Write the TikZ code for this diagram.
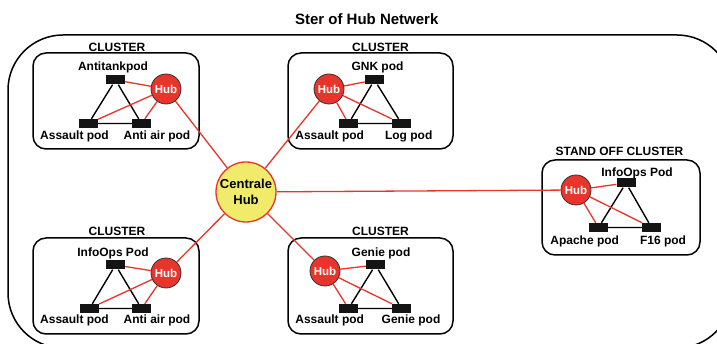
\documentclass[tikz,border=0pt]{standalone}
\usepackage{fontspec}
\setmainfont{Liberation Sans}
\definecolor{hubred}{HTML}{E8352B}
\definecolor{hubyellow}{HTML}{F1EB6C}

\begin{document}
\begin{tikzpicture}[x=1pt, y=-1pt,
    hub/.style={draw=black!80, circle, fill=hubred, minimum size=30, inner sep=0, line width=0.8, text=white, font=\fontsize{11.5}{12}\selectfont\bfseries},
    centrehub/.style={draw=hubred, circle, fill=hubyellow, minimum size=60, inner sep=0, line width=1.3, align=center, font=\fontsize{13}{15.5}\selectfont\bfseries},
    pod/.style={rectangle, fill=black!92, minimum width=19, minimum height=9, inner sep=0},
    lbl/.style={anchor=base, inner sep=0, font=\fontsize{12}{12}\selectfont\bfseries},
    clusterbox/.style={draw, rectangle, rounded corners=13, line width=1.5, minimum height=96},
    redlink/.style={draw=hubred, line width=1.3},
    podlink/.style={draw=black, line width=1.4}]

    \useasboundingbox (0,0) rectangle (717,344);
    \clip (0,0) rectangle (717,344);

    % outer frame, runs past the right and bottom edge
    \draw[line width=1.5, rounded corners=55] (8,35) rectangle (732,348);
    \node (title) [lbl, font=\fontsize{15}{15}\selectfont\bfseries] at (366.7,24.3) {Ster of Hub Netwerk};

    % cluster boxes
    \node (box_antitank) [clusterbox, minimum width=166] at (116,101) {};
    \node (box_gnk) [clusterbox, minimum width=165] at (370.5,101) {};
    \node (box_standoff) [clusterbox, minimum width=158, minimum height=95] at (621,207.5) {};
    \node (box_infoops) [clusterbox, minimum width=166] at (116,286) {};
    \node (box_genie) [clusterbox, minimum width=165] at (370.5,286) {};

    \node (title_antitank) [lbl] at (117,51.5) {CLUSTER};
    \node (title_gnk) [lbl] at (380.5,51.5) {CLUSTER};
    \node (title_standoff) [lbl] at (619.5,155.3) {STAND OFF CLUSTER};
    \node (title_infoops) [lbl] at (117,235.7) {CLUSTER};
    \node (title_genie) [lbl] at (380.5,235.7) {CLUSTER};

    % centrale hub
    \node (centrale) [centrehub] at (246,192) {Centrale\\Hub};

    % antitank cluster
    \node (hub_antitank) [hub] at (166,89) {Hub};
    \node (pod_antitank_top) [pod] at (115.5,80) {};
    \node (pod_antitank_left) [pod] at (88.5,123.5) {};
    \node (pod_antitank_right) [pod] at (141.5,123.5) {};
    \node (lbl_antitank_top) [lbl] at (113,71) {Antitankpod};
    \node (lbl_antitank_left) [lbl] at (74.5,139.5) {Assault pod};
    \node (lbl_antitank_right) [lbl] at (157,139.5) {Anti air pod};

    % gnk cluster
    \node (hub_gnk) [hub] at (329,89) {Hub};
    \node (pod_gnk_top) [pod] at (374.5,80) {};
    \node (pod_gnk_left) [pod] at (348.5,123.5) {};
    \node (pod_gnk_right) [pod] at (401.5,123.5) {};
    \node (lbl_gnk_top) [lbl] at (377.5,71) {GNK pod};
    \node (lbl_gnk_left) [lbl] at (329.7,139.5) {Assault pod};
    \node (lbl_gnk_right) [lbl] at (408.7,139.5) {Log pod};

    % stand off cluster
    \node (hub_standoff) [hub] at (576,190) {Hub};
    \node (pod_standoff_top) [pod] at (626,183) {};
    \node (pod_standoff_left) [pod] at (598.5,227.5) {};
    \node (pod_standoff_right) [pod] at (651.5,227.5) {};
    \node (lbl_standoff_top) [lbl] at (637,176.7) {InfoOps Pod};
    \node (lbl_standoff_left) [lbl] at (584.7,244.3) {Apache pod};
    \node (lbl_standoff_right) [lbl] at (663,244.3) {F16 pod};

    % infoops cluster
    \node (hub_infoops) [hub] at (166,273) {Hub};
    \node (pod_infoops_top) [pod] at (115.5,265) {};
    \node (pod_infoops_left) [pod] at (89.5,308.5) {};
    \node (pod_infoops_right) [pod] at (141.5,308.5) {};
    \node (lbl_infoops_top) [lbl] at (113,256.7) {InfoOps Pod};
    \node (lbl_infoops_left) [lbl] at (74.5,323.5) {Assault pod};
    \node (lbl_infoops_right) [lbl] at (157,323.5) {Anti air pod};

    % genie cluster
    \node (hub_genie) [hub] at (325,271) {Hub};
    \node (pod_genie_top) [pod] at (375.5,265) {};
    \node (pod_genie_left) [pod] at (348.5,308.5) {};
    \node (pod_genie_right) [pod] at (401.5,308.5) {};
    \node (lbl_genie_top) [lbl] at (381,256.7) {Genie pod};
    \node (lbl_genie_left) [lbl] at (329.7,323.5) {Assault pod};
    \node (lbl_genie_right) [lbl] at (411,323.5) {Genie pod};

    % links to the centrale hub
    \draw[redlink] (centrale) -- (hub_antitank);
    \draw[redlink] (centrale) -- (hub_gnk);
    \draw[redlink] (centrale) -- (hub_standoff);
    \draw[redlink] (centrale) -- (hub_infoops);
    \draw[redlink] (centrale) -- (hub_genie);

    % pods inside the clusters
    \draw[podlink] (pod_antitank_top) -- (pod_antitank_left) -- (pod_antitank_right) -- (pod_antitank_top);
    \draw[podlink] (pod_gnk_top) -- (pod_gnk_left) -- (pod_gnk_right) -- (pod_gnk_top);
    \draw[podlink] (pod_standoff_top) -- (pod_standoff_left) -- (pod_standoff_right) -- (pod_standoff_top);
    \draw[podlink] (pod_infoops_top) -- (pod_infoops_left) -- (pod_infoops_right) -- (pod_infoops_top);
    \draw[podlink] (pod_genie_top) -- (pod_genie_left) -- (pod_genie_right) -- (pod_genie_top);

    \draw[redlink] (hub_antitank) -- (pod_antitank_top);
    \draw[redlink] (hub_antitank) -- (pod_antitank_left);
    \draw[redlink] (hub_antitank) -- (pod_antitank_right);
    \draw[redlink] (hub_gnk) -- (pod_gnk_top);
    \draw[redlink] (hub_gnk) -- (pod_gnk_left);
    \draw[redlink] (hub_gnk) -- (pod_gnk_right);
    \draw[redlink] (hub_standoff) -- (pod_standoff_top);
    \draw[redlink] (hub_standoff) -- (pod_standoff_left);
    \draw[redlink] (hub_standoff) -- (pod_standoff_right);
    \draw[redlink] (hub_infoops) -- (pod_infoops_top);
    \draw[redlink] (hub_infoops) -- (pod_infoops_left);
    \draw[redlink] (hub_infoops) -- (pod_infoops_right);
    \draw[redlink] (hub_genie) -- (pod_genie_top);
    \draw[redlink] (hub_genie) -- (pod_genie_left);
    \draw[redlink] (hub_genie) -- (pod_genie_right);
\end{tikzpicture}
\end{document}
